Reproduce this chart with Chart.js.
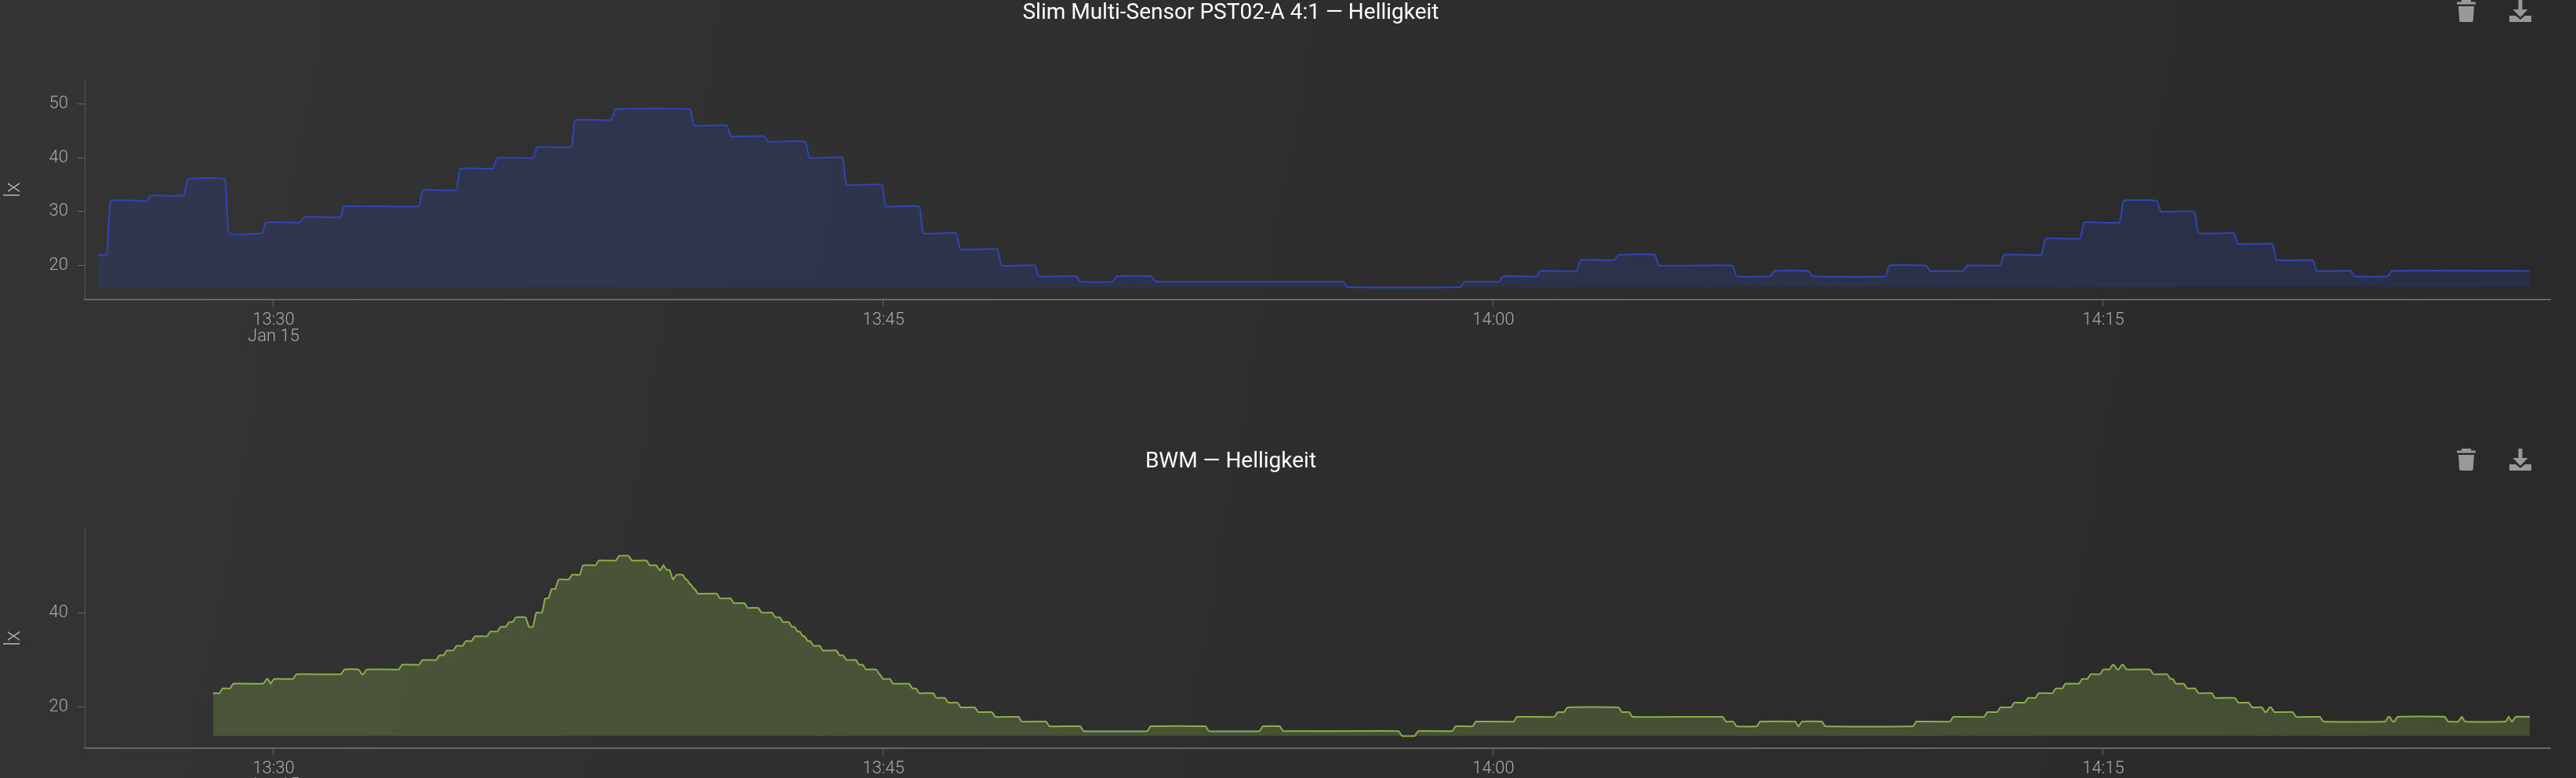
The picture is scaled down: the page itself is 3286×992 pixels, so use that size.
<!DOCTYPE html>
<html>
<head>
<meta charset="utf-8">
<title>Helligkeit</title>
<script src="https://cdn.jsdelivr.net/npm/chart.js@4"></script>
<style>
  html, body { margin: 0; padding: 0; width: 3286px; height: 992px; overflow: hidden; }
  body { position: relative; background: linear-gradient(100deg, #343434 0%, #2e2e2e 50%, #2a2a2a 100%); font-family: Roboto, sans-serif; }
  canvas { position: absolute; left: 0; }
  .title { position: absolute; left: 0; width: 3140px; text-align: center; color: #fff; font-size: 28px; line-height: 30px; }
  .icon { position: absolute; fill: #999; }
</style>
</head>
<body>
<canvas id="chart_top" width="3286" height="460" style="top:0"></canvas>
<canvas id="chart_bottom" width="3286" height="420" style="top:572px"></canvas>

<div class="title" style="top:0">Slim Multi-Sensor PST02-A 4:1 — Helligkeit</div>
<div class="title" style="top:572px">BWM — Helligkeit</div>

<svg class="icon" style="left:3133px;top:0" width="26" height="28" viewBox="0 0 26 28"><path d="M7 0h12v2.500h6v3H1v-3h6zM3 8h20l-1.200 18q-.1 2-2 2H6.200q-1.900 0-2-2z"/></svg>
<svg class="icon" style="left:3201px;top:0" width="28" height="28" viewBox="0 0 28 28"><path d="M11.500 0h5v12h7L14 22 4.500 12h7zM0 20h8l6 5 6-5h8v8H0z"/></svg>
<svg class="icon" style="left:3133px;top:572px" width="26" height="28" viewBox="0 0 26 28"><path d="M7 0h12v2.500h6v3H1v-3h6zM3 8h20l-1.200 18q-.1 2-2 2H6.200q-1.900 0-2-2z"/></svg>
<svg class="icon" style="left:3201px;top:572px" width="28" height="28" viewBox="0 0 28 28"><path d="M11.500 0h5v12h7L14 22 4.500 12h7zM0 20h8l6 5 6-5h8v8H0z"/></svg>

<script>
// minutes after 13:30 where the reading changes, and the level from there on
const topChange = [-4.32, -4.05, -3.07, -2.16, -1.15, -0.23, 0.70, 1.69, 3.62, 4.54, 5.45, 6.43, 7.37, 8.35, 10.29, 11.20, 12.11, 13.13, 14.04, 15.01, 15.93, 16.84, 17.85, 18.77, 19.79, 20.69, 21.64, 26.35, 29.24, 30.19, 31.11, 32.10, 33.03, 34.02, 35.93, 36.86, 37.80, 39.69, 40.69, 41.61, 42.51, 43.53, 44.48, 45.45, 46.37, 47.29, 48.26, 49.21, 50.20, 51.13, 52.05];
const topLevel  = [22, 32, 33, 36, 26, 28, 29, 31, 34, 38, 40, 42, 47, 49, 46, 44, 43, 40, 35, 31, 26, 23, 20, 18, 17, 18, 17, 16, 17, 18, 19, 21, 22, 20, 18, 19, 18, 20, 19, 20, 22, 25, 28, 32, 30, 26, 24, 21, 19, 18, 19];

const bottomChange = [-1.49, -1.29, -1.03, -0.21, -0.11, -0.03, 0.52, 1.70, 2.13, 2.25, 3.12, 3.62, 4.04, 4.22, 4.46, 4.69, 4.91, 5.29, 5.54, 5.75, 5.92, 6.24, 6.42, 6.64, 6.80, 6.97, 7.30, 7.57, 7.96, 8.46, 8.77, 9.21, 9.45, 9.55, 9.63, 9.78, 9.87, 10.10, 10.20, 10.30, 10.40, 10.94, 11.28, 11.62, 11.96, 12.30, 12.49, 12.71, 12.85, 12.98, 13.10, 13.24, 13.47, 13.88, 14.05, 14.36, 14.53, 14.86, 14.95, 15.20, 15.67, 15.84, 16.26, 16.55, 16.86, 17.29, 17.71, 18.36, 19.04, 19.88, 21.53, 22.96, 24.29, 24.79, 27.71, 28.11, 29.03, 29.53, 30.54, 31.54, 31.78, 33.12, 33.38, 35.68, 35.94, 36.52, 37.46, 37.55, 38.12, 40.36, 41.27, 42.11, 42.43, 42.77, 43.11, 43.37, 43.79, 44.03, 44.44, 44.65, 44.96, 45.19, 45.30, 45.42, 45.53, 46.19, 46.61, 46.75, 47.02, 47.30, 47.71, 48.28, 48.62, 48.94, 49.05, 49.17, 49.70, 50.37, 51.97, 52.08, 52.20, 53.44, 53.77, 53.86, 54.93, 55.01, 55.10];
const bottomLevel  = [23, 24, 25, 26, 25, 26, 27, 28, 27, 28, 29, 30, 31, 32, 33, 34, 35, 36, 37, 38, 39, 37, 40, 43, 45, 47, 48, 50, 51, 52, 51, 50, 49, 50, 49, 47, 48, 47, 46, 45, 44, 43, 42, 41, 40, 39, 38, 37, 36, 35, 34, 33, 32, 31, 30, 29, 28, 27, 26, 25, 24, 23, 22, 21, 20, 19, 18, 17, 16, 15, 16, 15, 16, 15, 14, 15, 16, 17, 18, 19, 20, 19, 18, 17, 16, 17, 16, 17, 16, 17, 18, 19, 20, 21, 22, 23, 24, 25, 26, 27, 28, 29, 28, 29, 28, 27, 26, 25, 24, 23, 22, 21, 20, 19, 20, 19, 18, 17, 18, 17, 18, 17, 18, 17, 18, 17, 18];

const lastMinute = 55.49;

const xTicks = [0, 15, 30, 45];
const xTickLabels = [['13:30', 'Jan 15'], '13:45', '14:00', '14:15'];
const topTicks = [20, 30, 40, 50];
const bottomTicks = [20, 40];

const labelFont = { family: 'Roboto, sans-serif', size: 22, weight: '300', lineHeight: 0.95 };

// one level is held until the next change, the change itself takes a few seconds
function stepPoints(change, level, halfWidth) {
    const points = [{ x: change[0], y: level[0] }];
    for (let i = 1; i < change.length; i++) {
        points.push({ x: change[i] - halfWidth, y: level[i - 1] });
        points.push({ x: change[i] + halfWidth, y: level[i] });
    }
    points.push({ x: lastMinute, y: level[level.length - 1] });
    return points;
}

function drawChart(id, points, base, line, area, yMin, yMax, yTicks, tension) {
    const ctx = document.getElementById(id).getContext('2d');
    return new Chart(ctx, {
        type: 'line',
        data: {
            datasets: [{
                data: points,
                borderColor: line,
                backgroundColor: area,
                borderWidth: 2,
                pointRadius: 0,
                tension: tension,
                fill: { value: base }
            }]
        },
        options: {
            responsive: false,
            animation: false,
            layout: { padding: { top: 102, right: 33, left: 0, bottom: 0 } },
            plugins: { legend: { display: false }, title: { display: false }, tooltip: { enabled: false } },
            scales: {
                x: {
                    type: 'linear',
                    min: -4.646,
                    max: 55.99,
                    afterFit: function(s) { s.height = s.chart.height - 382; },
                    afterBuildTicks: function(s) { s.ticks = xTicks.map(function(v) { return { value: v }; }); },
                    border: { color: '#666', width: 2 },
                    grid: { color: '#666', drawOnChartArea: false, tickLength: 9 },
                    ticks: {
                        color: '#aaa',
                        font: labelFont,
                        padding: 7,
                        maxRotation: 0,
                        autoSkip: false,
                        callback: function(v) { return xTickLabels[xTicks.indexOf(v)]; }
                    }
                },
                y: {
                    min: yMin,
                    max: yMax,
                    afterFit: function(s) { s.width = 108; },
                    afterBuildTicks: function(s) { s.ticks = yTicks.map(function(v) { return { value: v }; }); },
                    border: { color: '#555', width: 1 },
                    grid: { color: '#666', drawOnChartArea: false, tickLength: 9 },
                    title: { display: true, text: 'lx', color: '#aaa', font: { family: 'Roboto, sans-serif', size: 28, weight: '300' }, padding: { top: 1, bottom: 0 } },
                    ticks: { color: '#aaa', font: labelFont, padding: 12 }
                }
            }
        }
    });
}

drawChart('chart_top', stepPoints(topChange, topLevel, 0.05), 16, '#2f45b8', 'rgba(47,69,184,0.22)', 13.67, 54.44, topTicks, 0.1);
drawChart('chart_bottom', stepPoints(bottomChange, bottomLevel, 0.04), 14, '#8bb04a', 'rgba(139,176,74,0.27)', 11.38, 57.74, bottomTicks, 0.1);
</script>
</body>
</html>
